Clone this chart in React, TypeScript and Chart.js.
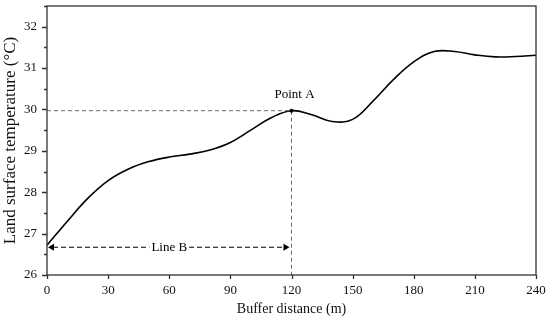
import React, { useEffect, useRef } from "react";
import { Chart, registerables } from "chart.js";

Chart.register(...registerables);

const distances = [0, 10, 20, 30, 40, 50, 60, 70, 80, 90, 100, 110, 120, 130, 140, 150, 160, 170, 180, 190, 200, 210, 220, 230, 240];
const temperatures = [26.72, 27.3, 27.85, 28.28, 28.56, 28.74, 28.85, 28.92, 29.02, 29.2, 29.5, 29.8, 29.97, 29.87, 29.71, 29.76, 30.2, 30.72, 31.15, 31.4, 31.4, 31.32, 31.27, 31.28, 31.31];
const pointA = { x: 120, y: 29.97, label: "Point A" };
const lineB = { from: 0, to: 120, y: 26.67, label: "Line B" };
const xTicks = [0, 30, 60, 90, 120, 150, 180, 210, 240];
const yTicks = [26, 27, 28, 29, 30, 31, 32];
const yMinorTicks = [26.5, 27.5, 28.5, 29.5, 30.5, 31.5, 32.5];

const FONT = "'Liberation Serif', 'Times New Roman', serif";

const decorPlugin = {
  id: "decor",
  afterDatasetsDraw(chart: any) {
    const { ctx, chartArea, scales } = chart;
    const xs = scales.x;
    const ys = scales.y;
    ctx.save();
    const ax = xs.getPixelForValue(pointA.x);
    const ay = ys.getPixelForValue(pointA.y);
    ctx.strokeStyle = "#6a6a6a";
    ctx.lineWidth = 1;
    ctx.setLineDash([4, 3]);
    ctx.beginPath();
    ctx.moveTo(chartArea.left, ay);
    ctx.lineTo(ax, ay);
    ctx.moveTo(ax, ay);
    ctx.lineTo(ax, chartArea.bottom);
    ctx.stroke();
    ctx.setLineDash([]);
    ctx.fillStyle = "#000";
    ctx.beginPath();
    ctx.arc(ax, ay, 2, 0, Math.PI * 2);
    ctx.fill();
    ctx.font = "13px " + FONT;
    ctx.textAlign = "center";
    ctx.textBaseline = "middle";
    ctx.fillText(pointA.label, ax + 3, ay - 16);

    const bx0 = xs.getPixelForValue(lineB.from) + 1;
    const bx1 = xs.getPixelForValue(lineB.to) - 2;
    const by = ys.getPixelForValue(lineB.y);
    ctx.strokeStyle = "#000";
    ctx.lineWidth = 1.2;
    ctx.setLineDash([5, 3]);
    ctx.beginPath();
    ctx.moveTo(bx0 + 5, by);
    ctx.lineTo(bx1 - 5, by);
    ctx.stroke();
    ctx.setLineDash([]);
    ctx.beginPath();
    ctx.moveTo(bx0, by);
    ctx.lineTo(bx0 + 6, by - 3.5);
    ctx.lineTo(bx0 + 6, by + 3.5);
    ctx.closePath();
    ctx.fill();
    ctx.beginPath();
    ctx.moveTo(bx1, by);
    ctx.lineTo(bx1 - 6, by - 3.5);
    ctx.lineTo(bx1 - 6, by + 3.5);
    ctx.closePath();
    ctx.fill();
    const lx = xs.getPixelForValue((lineB.from + lineB.to) / 2);
    ctx.font = "13px " + FONT;
    const tw = ctx.measureText(lineB.label).width;
    ctx.fillStyle = "#fff";
    ctx.fillRect(lx - tw / 2 - 2, by - 8, tw + 4, 16);
    ctx.fillStyle = "#000";
    ctx.fillText(lineB.label, lx, by);

    ctx.strokeStyle = "#333";
    ctx.lineWidth = 1.3;
    ctx.strokeRect(chartArea.left, chartArea.top, chartArea.right - chartArea.left, chartArea.bottom - chartArea.top);
    ctx.beginPath();
    for (const v of yTicks) {
      const p = Math.round(ys.getPixelForValue(v)) + 0.5;
      ctx.moveTo(chartArea.left - 5, p);
      ctx.lineTo(chartArea.left, p);
    }
    for (const v of yMinorTicks) {
      const p = Math.round(ys.getPixelForValue(v)) + 0.5;
      ctx.moveTo(chartArea.left - 3, p);
      ctx.lineTo(chartArea.left, p);
    }
    for (const v of xTicks) {
      const p = Math.round(xs.getPixelForValue(v)) + 0.5;
      ctx.moveTo(p, chartArea.bottom);
      ctx.lineTo(p, chartArea.bottom + 4);
    }
    ctx.stroke();
    ctx.restore();
  },
};

export default function App() {
  const ref = useRef<HTMLCanvasElement>(null);
  useEffect(() => {
    document.body.style.margin = "0";
    const chart = new Chart(ref.current!, {
      type: "line",
      data: {
        datasets: [
          {
            data: distances.map((d, i) => ({ x: d, y: temperatures[i] })),
            borderColor: "#000",
            borderWidth: 1.6,
            pointRadius: 0,
            tension: 0.4,
            fill: false,
          },
        ],
      },
      options: {
        animation: false,
        responsive: false,
        maintainAspectRatio: false,
        layout: { padding: { top: 6, right: 14, left: 0, bottom: 0 } },
        plugins: { legend: { display: false }, tooltip: { enabled: false } },
        scales: {
          x: {
            type: "linear",
            min: 0,
            max: 240,
            afterBuildTicks: (s: any) => {
              s.ticks = xTicks.map((v) => ({ value: v }));
            },
            afterFit: (s: any) => {
              s.height = 43;
              s.paddingLeft = 0;
              s.paddingRight = 0;
            },
            grid: { display: false, drawTicks: false },
            border: { display: false },
            ticks: { color: "#111", font: { family: FONT, size: 13 }, padding: 8, maxRotation: 0 },
            title: { display: true, text: "Buffer distance (m)", color: "#111", font: { family: FONT, size: 14 }, padding: { top: 0, bottom: 0 } },
          },
          y: {
            type: "linear",
            min: 26,
            max: 32.5,
            afterBuildTicks: (s: any) => {
              s.ticks = yTicks.map((v) => ({ value: v }));
            },
            afterFit: (s: any) => {
              s.width = 47;
              s.paddingTop = 0;
              s.paddingBottom = 0;
            },
            grid: { display: false, drawTicks: false },
            border: { display: false },
            ticks: { color: "#111", font: { family: FONT, size: 13 }, padding: 10 },
            title: { display: true, text: "Land surface temperature (°C)", color: "#111", font: { family: FONT, size: 17 }, padding: { top: 0, bottom: 2 } },
          },
        },
      },
      plugins: [decorPlugin],
    } as any);
    return () => chart.destroy();
  }, []);
  return (
    <div style={{ width: 550, height: 318, position: "relative" }}>
      <canvas ref={ref} width={550} height={318} style={{ display: "block" }} />
    </div>
  );
}
